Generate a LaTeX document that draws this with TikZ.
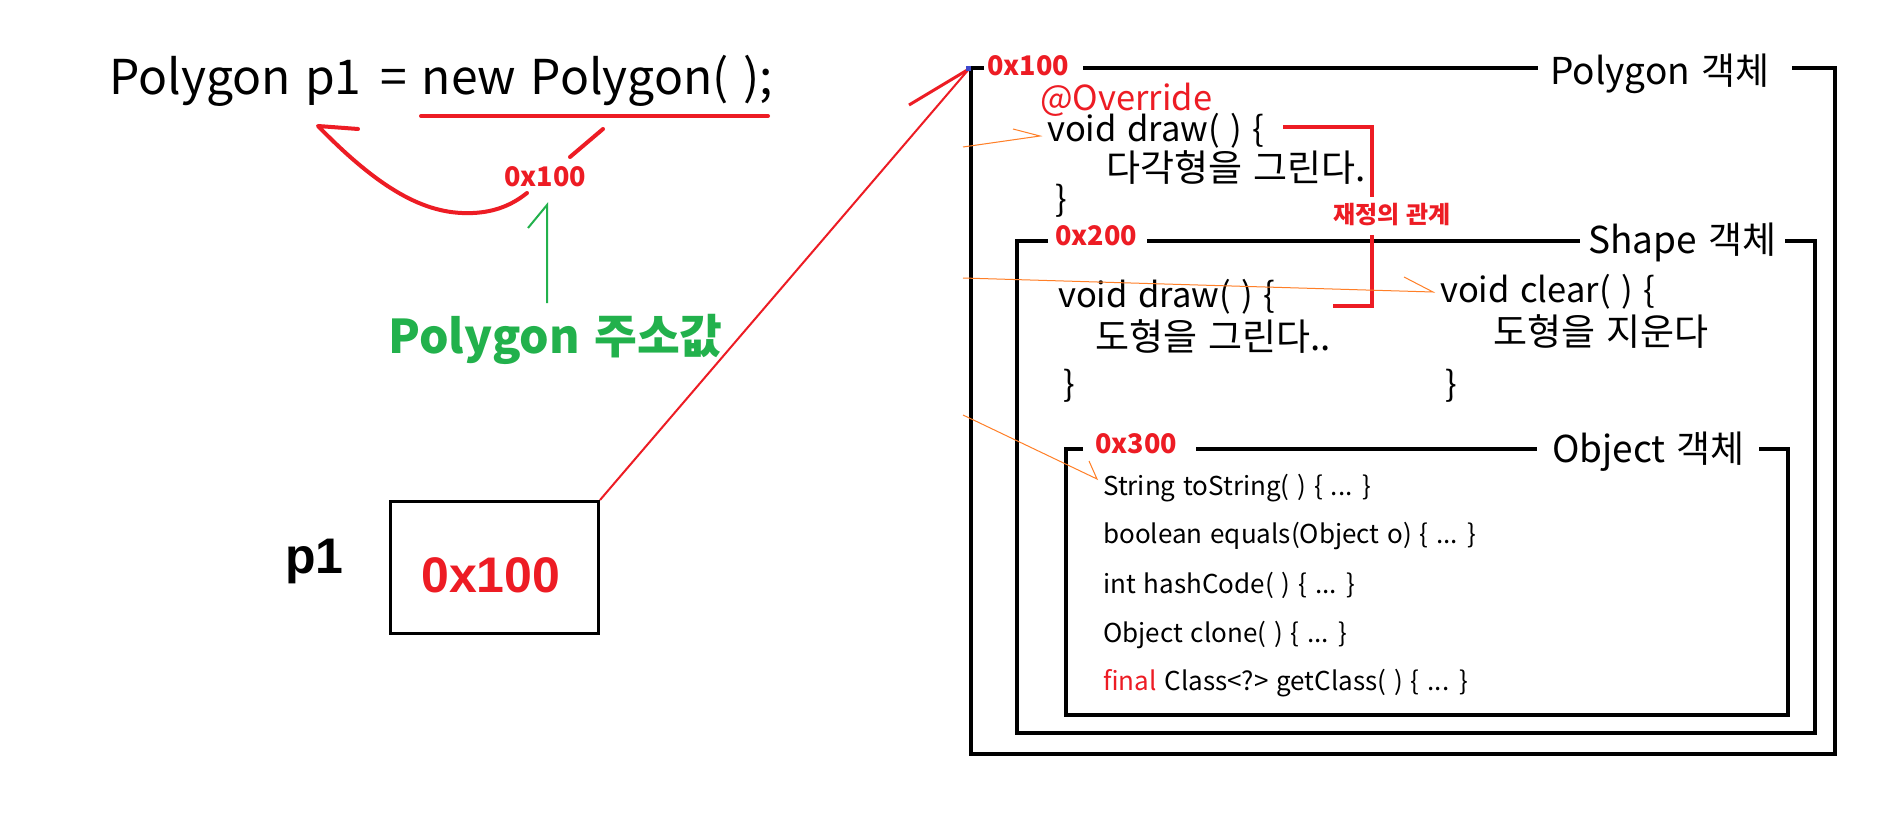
\documentclass[tikz,border=0pt]{standalone}
\usepackage{fontspec}
\setmainfont{Noto Sans CJK KR}[WordSpace=1.35]
\newfontfamily\arialf{Liberation Sans}
\definecolor{pred}{HTML}{ED1C24}
\definecolor{pgreen}{HTML}{22B14C}
\definecolor{porange}{HTML}{FF7F27}
\definecolor{pblue}{HTML}{3F48CC}
\newcommand\fsMain{\fontsize{48}{52}\selectfont}
\newcommand\fsLbl{\fontsize{37}{40}\selectfont}
\newcommand\fsCode{\fontsize{34.5}{38}\selectfont}
\newcommand\fsKor{\fontsize{37}{40}\selectfont}
\newcommand\fsObj{\fontsize{26}{30}\selectfont}
\newcommand\fsAddr{\fontsize{27}{30}\selectfont\bfseries}
\begin{document}
\begin{tikzpicture}[x=1pt,y=-1pt,
  txt/.style={inner sep=0pt, anchor=base west},
  frame/.style={line width=4pt, line cap=butt, line join=miter},
  redpen/.style={draw=pred, line width=4pt, line cap=round, line join=round},
  thinred/.style={draw=pred, line width=2pt},
  orangepen/.style={draw=porange, line width=1pt},
  greenpen/.style={draw=pgreen, line width=2pt},
  addr/.style={txt, font=\fsAddr, text=pred},
  lbl/.style={txt, font=\fsLbl},
  code/.style={txt, font=\fsCode},
  kor/.style={txt, font=\fsKor},
  meth/.style={txt, font=\fsObj}]
\useasboundingbox (0,0) rectangle (1898,840);
\fill[white] (0,0) rectangle (1898,840);

% ---------- left side ----------
\node[txt, font=\fsMain] (code) at (109,95) {Polygon p1\hspace{0.4em}=\hspace{0.3em}new Polygon( );};
\coordinate (ulA) at (421,116);
\coordinate (ulB) at (768,116);
\draw[redpen] (ulA) -- (ulB);

\node[addr, anchor=center] (addrsmall) at (545,177) {0x100};
\coordinate (cvA) at (603,129);
\coordinate (cvB) at (570,157);
\coordinate (cvC) at (527,193);
\coordinate (cvTip) at (318,126);
\coordinate (cvStub) at (358,129);
\draw[redpen] (cvA) -- (cvB);
\draw[redpen] (cvC) .. controls (512,205) and (495,212) .. (473,213)
              .. controls (430,215) and (385,195) .. (cvTip) -- (cvStub);

\coordinate (gTop) at (547,205);
\coordinate (gBot) at (547,303);
\coordinate (gBarb) at (528,228);
\draw[greenpen] (gBot) -- (gTop) -- (gBarb);
\node[txt, font=\fontsize{46.5}{50}\selectfont\bfseries, text=pgreen] (addrlbl) at (388,353) {Polygon 주소값};

\node[txt, font=\arialf\fontsize{50}{54}\selectfont\bfseries] (p1) at (285,573) {p1};
\node[draw, line width=3pt, minimum width=208pt, minimum height=132pt, anchor=north west, inner sep=0pt] (box) at (389,500) {};
\node[txt, font=\arialf\fontsize{50}{54}\selectfont\bfseries, text=pred] (boxval) at (421,592) {0x100};

% ---------- frames ----------
\coordinate (otl) at (971,68);  \coordinate (obr) at (1835,754);
\coordinate (stl) at (1017,241); \coordinate (sbr) at (1815,733);
\coordinate (jtl) at (1066,449); \coordinate (jbr) at (1788,715);

\node[addr] (a100) at (987,76) {0x100};
\node[lbl] (lpoly) at (1550,85) {Polygon 객체};
\node[addr] (a200) at (1055,245) {0x200};
\node[lbl] (lshape) at (1588,253) {Shape 객체};
\node[addr] (a300) at (1095,453) {0x300};
\node[lbl] (lobj) at (1552,462) {Object 객체};

\draw[frame] ([xshift=-3pt]a100.west |- otl) -- (otl) -- (otl |- obr) -- (obr) -- (obr |- otl) -- ([xshift=22pt]lpoly.east |- otl);
\draw[frame] ([xshift=14pt]a100.east |- otl) -- ([xshift=-12pt]lpoly.west |- otl);

\draw[frame] ([xshift=-7pt]a200.west |- stl) -- (stl) -- (stl |- sbr) -- (sbr) -- (sbr |- stl) -- ([xshift=9pt]lshape.east |- stl);
\draw[frame] ([xshift=10pt]a200.east |- stl) -- ([xshift=-8pt]lshape.west |- stl);

\draw[frame] ([xshift=-12pt]a300.west |- jtl) -- (jtl) -- (jtl |- jbr) -- (jbr) -- (jbr |- jtl) -- ([xshift=14pt]lobj.east |- jtl);
\draw[frame] ([xshift=19pt]a300.east |- jtl) -- ([xshift=-15pt]lobj.west |- jtl);

% ---------- Polygon contents ----------
\node[txt, font=\fsCode, text=pred] (ovr) at (1040,111) {@Override};
\node[code] (pdraw) at (1047,142) {void draw( ) \{};
\node[kor] (pdesc) at (1106,182) {다각형을 그린다.};
\node[code] (pend) at (1055,211) {\}};

% ---------- Shape contents ----------
\node[code] (sdraw) at (1058,307) {void draw( ) \{};
\node[kor] (sdesc) at (1095,350) {도형을 그린다..};
\node[code] (send) at (1063,396) {\}};
\node[code] (sclear) at (1440,302) {void clear( ) \{};
\node[kor] (cdesc) at (1493,345) {도형을 지운다};
\node[code] (cend) at (1445,396) {\}};

% ---------- Object contents ----------
\node[meth] (m1) at (1103,495) {String toString( ) \{ ... \}};
\node[meth] (m2) at (1103,543) {boolean equals(Object o) \{ ... \}};
\node[meth] (m3) at (1103,593) {int hashCode( ) \{ ... \}};
\node[meth] (m4) at (1103,642) {Object clone( ) \{ ... \}};
\node[meth] (m5) at (1103,690) {{\color{pred}final} Class<?> getClass( ) \{ ... \}};

% ---------- override bracket ----------
\node[txt, anchor=center, font=\fontsize{24}{26}\selectfont\bfseries, text=pred] (rel) at (1392,215) {재정의 관계};
\coordinate (brA) at (1283,127);
\coordinate (brB) at (1372,127);
\coordinate (brC) at (1372,197);
\coordinate (brD) at (1372,235);
\coordinate (brE) at (1372,306);
\coordinate (brF) at (1333,306);
\draw[draw=pred, line width=4pt, line join=miter] (brA) -- (brB) -- (brC);
\draw[draw=pred, line width=4pt, line join=miter] (brD) -- (brE) -- (brF);

% ---------- reference arrow ----------
\coordinate (tip) at (969,69);
\coordinate (barb) at (909,105);
\draw[thinred] (box.north east) -- (tip);
\draw[draw=pred, line width=3pt] (barb) -- (tip);
\fill[pblue] (966,66) rectangle (971,71);

% ---------- orange pointers ----------
\coordinate (o1s) at (963,147); \coordinate (o1t) at (1040,136); \coordinate (o1b) at (1013,129);
\coordinate (o2s) at (963,278); \coordinate (o2t) at (1433,292); \coordinate (o2b) at (1404,277);
\coordinate (o3s) at (963,415); \coordinate (o3t) at (1097,479); \coordinate (o3b) at (1089,461);
\draw[orangepen] (o1s) -- (o1t) -- (o1b);
\draw[orangepen] (o2s) -- (o2t) -- (o2b);
\draw[orangepen] (o3s) -- (o3t) -- (o3b);
\end{tikzpicture}
\end{document}
